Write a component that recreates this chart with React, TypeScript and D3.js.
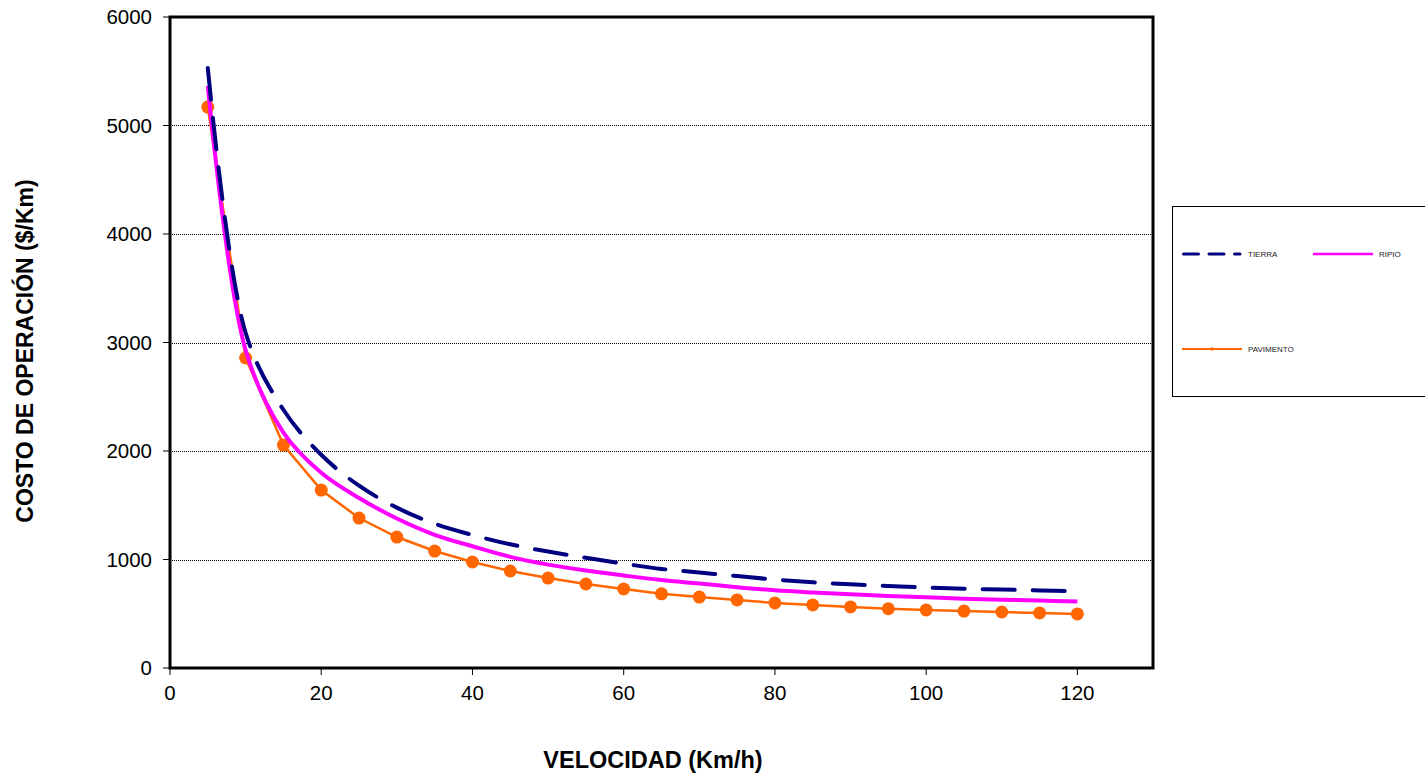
import React from "react";
import * as d3 from "d3";

const velocidad = [5, 10, 15, 20, 25, 30, 35, 40, 45, 50, 55, 60, 65, 70, 75, 80, 85, 90, 95, 100, 105, 110, 115, 120];
const tierra = [5530, 3090, 2380, 1965, 1680, 1478, 1330, 1226, 1140, 1073, 1016, 962, 913, 880, 847, 815, 790, 771, 756, 742, 731, 723, 715, 708];
const ripio = [5364, 2930, 2170, 1800, 1567, 1378, 1228, 1122, 1024, 953, 898, 853, 811, 779, 745, 716, 696, 679, 664, 651, 639, 630, 621, 614];
const pavimento = [5170, 2857, 2055, 1640, 1382, 1207, 1078, 977, 894, 829, 774, 728, 684, 654, 627, 600, 581, 563, 546, 535, 525, 516, 507, 498];
const yTicks = [0, 1000, 2000, 3000, 4000, 5000, 6000];
const xTicks = [0, 20, 40, 60, 80, 100, 120];
const gridValues = [1000, 2000, 3000, 4000, 5000];

const W = 1425;
const H = 775;
const L = 170, R = 1153, T = 17, B = 668;
const FONT = "'Liberation Sans', Arial, sans-serif";

export default function App() {
  const x = d3.scaleLinear().domain([0, 130]).range([L, R]);
  const y = d3.scaleLinear().domain([0, 6000]).range([B, T]);
  const smooth = d3
    .line<number>()
    .x((_, i) => x(velocidad[i]))
    .y((d) => y(d))
    .curve(d3.curveCatmullRom.alpha(0.5));
  const straight = d3
    .line<number>()
    .x((_, i) => x(velocidad[i]))
    .y((d) => y(d));

  return (
    <svg width={W} height={H} style={{ position: "absolute", left: 0, top: 0, background: "#fff" }} fontFamily={FONT}>
      <rect x={0} y={0} width={W} height={H} fill="#fff" />
      {gridValues.map((g) => (
        <line key={g} x1={L} x2={R} y1={Math.round(y(g)) + 0.5} y2={Math.round(y(g)) + 0.5} stroke="#000" strokeWidth={1} strokeDasharray="1 1" shapeRendering="crispEdges" />
      ))}
      {yTicks.map((t) => (
        <g key={t}>
          <line x1={L - 7} x2={L} y1={y(t)} y2={y(t)} stroke="#000" strokeWidth={1} />
          <text x={L - 18} y={y(t)} dy="0.36em" textAnchor="end" fontSize={20.5}>{t}</text>
        </g>
      ))}
      {xTicks.map((t) => (
        <g key={t}>
          <line x1={x(t)} x2={x(t)} y1={B} y2={B + 7} stroke="#000" strokeWidth={1} />
          <text x={x(t)} y={B + 25} dy="0.36em" textAnchor="middle" fontSize={20.5}>{t}</text>
        </g>
      ))}
      <path d={straight(pavimento) || ""} fill="none" stroke="#FF6600" strokeWidth={2.5} />
      {pavimento.map((v, i) => (
        <circle key={i} cx={x(velocidad[i])} cy={y(v)} r={6.5} fill="#FF6600" />
      ))}
      <path d={smooth(ripio) || ""} fill="none" stroke="#FF00FF" strokeWidth={4} />
      <path d={smooth(tierra) || ""} fill="none" stroke="#000080" strokeWidth={4} strokeDasharray="32 18" strokeLinecap="round" />
      <rect x={L} y={T} width={R - L} height={B - T} fill="none" stroke="#000" strokeWidth={3} />
      <text transform={`translate(33,351) rotate(-90)`} textAnchor="middle" fontSize={23} fontWeight="bold">COSTO DE OPERACIÓN ($/Km)</text>
      <text x={653} y={768} textAnchor="middle" fontSize={23.5} fontWeight="bold">VELOCIDAD (Km/h)</text>
      <g>
        <rect x={1172.5} y={206.5} width={260} height={190} fill="#fff" stroke="#000" strokeWidth={1} />
        <line x1={1183.5} x2={1240} y1={254} y2={254} stroke="#000080" strokeWidth={3} strokeDasharray="15 10.5" strokeLinecap="round" />
        <text x={1248} y={254} dy="0.35em" fontSize={8} fill="#222">TIERRA</text>
        <line x1={1313} x2={1373} y1={254} y2={254} stroke="#FF00FF" strokeWidth={2.5} />
        <text x={1379} y={254} dy="0.35em" fontSize={8} fill="#222">RIPIO</text>
        <line x1={1182} x2={1242} y1={349} y2={349} stroke="#FF6600" strokeWidth={2} />
        <rect x={1210.5} y={347.5} width={3} height={3} fill="#FF6600" />
        <text x={1248} y={349} dy="0.35em" fontSize={8} fill="#222">PAVIMENTO</text>
      </g>
    </svg>
  );
}
